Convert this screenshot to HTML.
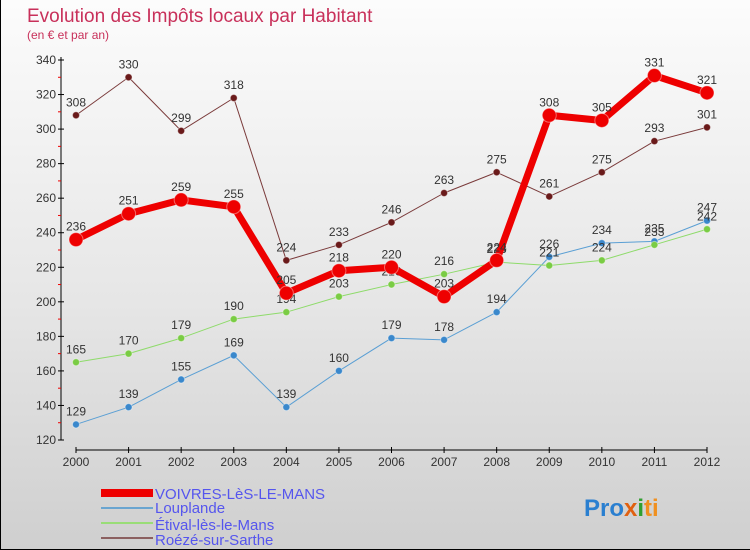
<!DOCTYPE html>
<html><head><meta charset="utf-8"><style>
body{margin:0}
#c{width:750px;height:550px;position:relative;overflow:hidden;box-sizing:border-box;border:1px solid #000;border-top:none;border-right:none;background:linear-gradient(#fcfcfc,#e6e6e6 55%,#cfcfcf);font-family:"Liberation Sans","DejaVu Sans",sans-serif}
</style></head><body>
<div id="c">
<svg width="750" height="550" id="s" style="position:absolute;left:0;top:0">
<text x="26" y="22" font-size="19" fill="#c8305a">Evolution des Impôts locaux par Habitant</text>
<text x="26" y="39" font-size="12" fill="#c8305a">(en € et par an)</text>
<g id="ax"></g><g id="series"></g>
<g>
<rect x="100" y="489" width="52" height="8" fill="#ee0000"/>
<text x="154" y="499" font-size="15" fill="#5555ee">VOIVRES-LèS-LE-MANS</text>
<rect x="100" y="507" width="52" height="2" fill="#6aa5d0"/>
<text x="154" y="513" font-size="15" fill="#5555ee">Louplande</text>
<rect x="100" y="522" width="52" height="2" fill="#99dd77"/>
<text x="154" y="530" font-size="15" fill="#5555ee">Étival-lès-le-Mans</text>
<rect x="100" y="537" width="52" height="2" fill="#8b6060"/>
<text x="154" y="545" font-size="15" fill="#5555ee">Roézé-sur-Sarthe</text>
</g>
<text x="583" y="516" font-size="24" font-weight="bold"><tspan fill="#2a7fd0">Pro</tspan><tspan fill="#e06010">x</tspan><tspan fill="#30a030">i</tspan><tspan fill="#f09020">ti</tspan></text>
</svg>
</div>
<script>
const years=[2000,2001,2002,2003,2004,2005,2006,2007,2008,2009,2010,2011,2012];
const yTicks=[120,140,160,180,200,220,240,260,280,300,320,340];
const voivres=[236,251,259,255,205,218,220,203,224,308,305,331,321];
const louplande=[129,139,155,169,139,160,179,178,194,226,234,235,247];
const etival=[165,170,179,190,194,203,210,216,223,221,224,233,242];
const roeze=[308,330,299,318,224,233,246,263,275,261,275,293,301];
const NS="http://www.w3.org/2000/svg";
function X(i){return 75+i*(706-75)/(years.length-1);}
function Y(v){return 440-(v-120)*(380/220);}
function mk(t,a,p){const e=document.createElementNS(NS,t);for(const k in a)e.setAttribute(k,a[k]);p.appendChild(e);return e;}
const ax=document.getElementById('ax');
let l=mk('line',{x1:60,y1:Y(340)-3,x2:60,y2:Y(120),stroke:'#000'},ax);


yTicks.forEach((v,i)=>{
 const t=mk('line',{x1:57,y1:Y(v),x2:63,y2:Y(v),stroke:'#000'},ax);
 
 
 if(i<yTicks.length-1){const m=mk('line',{x1:57,y1:Y(v+10),x2:60,y2:Y(v+10),stroke:'#e00'},ax);
 
 }
 const tx=mk('text',{x:55,y:Y(v)+4,'font-size':12,fill:'#333','text-anchor':'end'},ax);tx.textContent=v;
 
 
});
l=mk('line',{x1:X(0),y1:450,x2:X(12),y2:450,stroke:'#000'},ax);


years.forEach((y,i)=>{
 const t=mk('line',{x1:X(i),y1:447,x2:X(i),y2:453,stroke:'#000'},ax);
 
 
 const tx=mk('text',{x:X(i),y:466,'font-size':12,fill:'#333','text-anchor':'middle'},ax);tx.textContent=y;
 
 
});
const sg=document.getElementById('series');
function series(d,col,w,r,dot,name){
 const g=mk('g',{},sg);
 
 
 const p=mk('polyline',{points:d.map((v,i)=>X(i)+','+Y(v)).join(' '),fill:'none',stroke:col,'stroke-width':w,'stroke-linejoin':'round'},g);
 
 
 d.forEach((v,i)=>{
  const c=mk('circle',{cx:X(i),cy:Y(v),r:r,fill:dot,stroke:'#fff','stroke-opacity':0.4},g);
  
  
  const t=mk('text',{x:X(i),y:Y(v)-9,'font-size':12,fill:'#333','text-anchor':'middle'},g);t.textContent=v;
  
  
 });
}
series(roeze,'#7a3a3a',1,3.5,'#6a1a1a','roeze');
series(louplande,'#5a9fd4',1,3.5,'#3a88cc','louplande');
series(etival,'#8edb6a',1,3.5,'#7acc44','etival');
series(voivres,'#ee0000',7,7,'#ee0000','voivres');
</script>
</body></html>
